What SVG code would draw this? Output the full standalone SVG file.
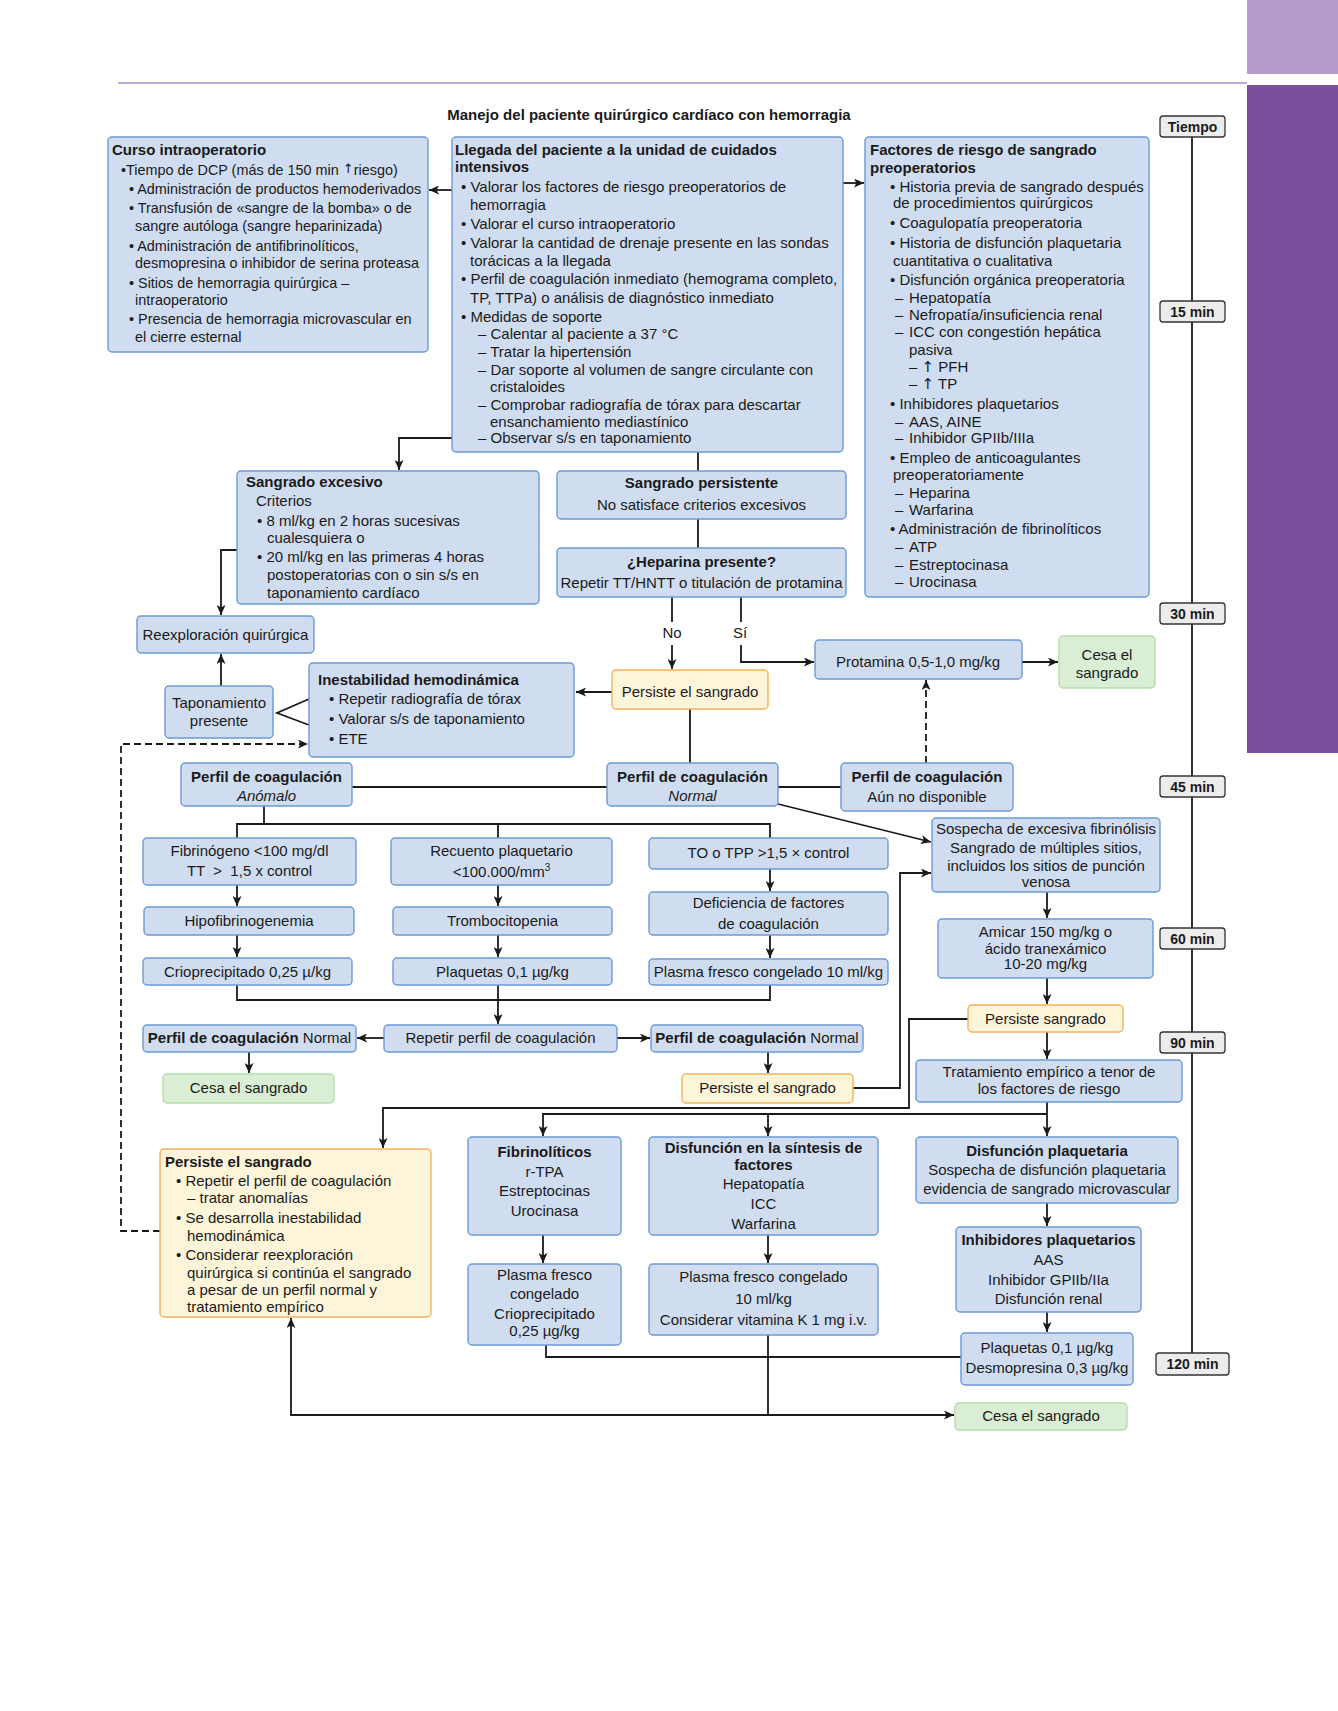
<svg xmlns="http://www.w3.org/2000/svg" width="1338" height="1711" viewBox="0 0 1338 1711">
<defs>
<style>
text{font-family:"Liberation Sans",Arial,sans-serif;font-size:15px;fill:#1a1a1a}
.bd{font-weight:bold}
.c{text-anchor:middle}
.it{font-style:italic}
.sm{font-size:14.4px}
.ar{font-family:"DejaVu Sans",sans-serif}
.b{fill:#d0ddf0;stroke:#6b9ad3;stroke-width:1.4}
.y{fill:#fdf5da;stroke:#f2b35a;stroke-width:1.4}
.g{fill:#d9eed4;stroke:#b8dcae;stroke-width:1.4}
.t{fill:#ececec;stroke:#333;stroke-width:1.3}
.tt{font-size:14px;font-weight:bold}
.ln{stroke:#1a1a1a;stroke-width:1.8;fill:none}
.ds{stroke-dasharray:7 4}
</style>
<marker id="ah" markerUnits="userSpaceOnUse" markerWidth="11" markerHeight="9" refX="10" refY="4.5" orient="auto">
<path d="M0,0 L10,4.5 L0,9 L2.5,4.5 z" fill="#1a1a1a"/>
</marker>
</defs>
<rect width="1338" height="1711" fill="#fff"/>
<g id="page">
<rect x="1247" y="0" width="91" height="74" fill="#b49ccd"/>
<line x1="118" y1="83" x2="1247" y2="83" stroke="#a58bc6" stroke-width="1.5"/>
<rect x="1247" y="85" width="91" height="668" fill="#7a4f9c"/>
<text x="649" y="120" class="bd c">Manejo del paciente quirúrgico cardíaco con hemorragia</text>
</g>
<g id="timeline">
<line x1="1192" y1="137" x2="1192" y2="1353" class="ln"/>
<rect x="1160" y="116" width="65" height="21" rx="3" class="t"/><text x="1192.5" y="131.5" class="tt c">Tiempo</text>
<rect x="1160" y="301" width="65" height="21" rx="3" class="t"/><text x="1192.5" y="316.5" class="tt c">15 min</text>
<rect x="1160" y="603" width="65" height="21" rx="3" class="t"/><text x="1192.5" y="618.5" class="tt c">30 min</text>
<rect x="1160" y="776" width="65" height="21" rx="3" class="t"/><text x="1192.5" y="791.5" class="tt c">45 min</text>
<rect x="1160" y="928" width="65" height="21" rx="3" class="t"/><text x="1192.5" y="943.5" class="tt c">60 min</text>
<rect x="1160" y="1032" width="65" height="21" rx="3" class="t"/><text x="1192.5" y="1047.5" class="tt c">90 min</text>
<rect x="1156" y="1353" width="73" height="22" rx="3" class="t"/><text x="1192.5" y="1369" class="tt c">120 min</text>
</g>
<g id="connectors">
<path class="ln" marker-end="url(#ah)" d="M452,190 H429"/>
<path class="ln" marker-end="url(#ah)" d="M843,183 H864"/>
<path class="ln" marker-end="url(#ah)" d="M452,438 H399 V470"/>
<path class="ln" d="M698,452 V471"/>
<path class="ln" d="M698,519 V548"/>
<path class="ln" d="M672,597 V622"/>
<path class="ln" marker-end="url(#ah)" d="M672,645 V669"/>
<path class="ln" d="M741,597 V622"/>
<path class="ln" marker-end="url(#ah)" d="M741,645 V662 H814"/>
<path class="ln" marker-end="url(#ah)" d="M612,692 H576"/>
<path class="ln" d="M690,709 V763"/>
<path class="ln" d="M352,787 H607 M778,787 H841"/>
<path class="ln ds" marker-end="url(#ah)" d="M926,763 V680"/>
<path class="ln" marker-end="url(#ah)" d="M1022,662 H1058"/>
<path class="ln" marker-end="url(#ah)" d="M237,550 H221 V615"/>
<path class="ln" marker-end="url(#ah)" d="M221,686 V654"/>
<path class="ln" d="M309,699 L277,713 L309,725"/>
<path class="ln ds" marker-end="url(#ah)" d="M160,1231 H121 V744 H308"/>
<path class="ln" d="M264,806 V824 M237,838 V824 H770 V838 M498,824 V838"/>
<path class="ln" marker-end="url(#ah)" d="M237,885 V906"/>
<path class="ln" marker-end="url(#ah)" d="M237,935 V957"/>
<path class="ln" marker-end="url(#ah)" d="M498,885 V906"/>
<path class="ln" marker-end="url(#ah)" d="M498,935 V957"/>
<path class="ln" marker-end="url(#ah)" d="M770,869 V891"/>
<path class="ln" marker-end="url(#ah)" d="M770,935 V958"/>
<path class="ln" d="M237,985 V1000 H770 V985"/>
<path class="ln" marker-end="url(#ah)" d="M498,985 V1024"/>
<path class="ln" marker-end="url(#ah)" d="M384,1038 H357"/>
<path class="ln" marker-end="url(#ah)" d="M617,1038 H650"/>
<path class="ln" marker-end="url(#ah)" d="M249,1052 V1073"/>
<path class="ln" marker-end="url(#ah)" d="M768,1052 V1073"/>
<path class="ln" marker-end="url(#ah)" d="M853,1088 H900 V873 H931"/>
<path class="ln" marker-end="url(#ah)" d="M778,804 L931,842"/>
<path class="ln" marker-end="url(#ah)" d="M1047,892 V918"/>
<path class="ln" marker-end="url(#ah)" d="M1047,978 V1004"/>
<path class="ln" marker-end="url(#ah)" d="M1047,1032 V1059"/>
<path class="ln" marker-end="url(#ah)" d="M968,1019 H909 V1108 H383 V1148"/>
<path class="ln" marker-end="url(#ah)" d="M1047,1102 V1136"/>
<path class="ln" marker-end="url(#ah)" d="M1047,1114 H543 V1136"/>
<path class="ln" marker-end="url(#ah)" d="M768,1114 V1136"/>
<path class="ln" marker-end="url(#ah)" d="M543,1235 V1263"/>
<path class="ln" marker-end="url(#ah)" d="M768,1235 V1263"/>
<path class="ln" marker-end="url(#ah)" d="M1047,1203 V1226"/>
<path class="ln" marker-end="url(#ah)" d="M1047,1312 V1332"/>
<path class="ln" d="M546,1345 V1357 H961"/>
<path class="ln" d="M768,1335 V1415"/>
<path class="ln" marker-end="url(#ah)" d="M768,1415 H954"/>
<path class="ln" marker-end="url(#ah)" d="M768,1415 H291 V1318"/>
<text x="672" y="638" class="c">No</text>
<text x="740" y="638" class="c">Sí</text>
</g>
<g id="curso">
<rect x="108" y="137" width="320" height="215" rx="4" class="b"/>
<text x="112" y="155" class="bd">Curso intraoperatorio</text>
<text x="121" y="175" class="sm">•Tiempo de DCP (más de 150 min <tspan class="ar" font-size="13" dy="-2">↑</tspan><tspan dy="2">riesgo)</tspan></text>
<text x="129" y="194" class="sm">• Administración de productos hemoderivados</text>
<text x="129" y="213" class="sm">• Transfusión de «sangre de la bomba» o de</text>
<text x="135" y="231" class="sm">sangre autóloga (sangre heparinizada)</text>
<text x="129" y="251" class="sm">• Administración de antifibrinolíticos,</text>
<text x="135" y="268" class="sm">desmopresina o inhibidor de serina proteasa</text>
<text x="129" y="288" class="sm">• Sitios de hemorragia quirúrgica –</text>
<text x="135" y="305" class="sm">intraoperatorio</text>
<text x="129" y="324" class="sm">• Presencia de hemorragia microvascular en</text>
<text x="135" y="342" class="sm">el cierre esternal</text>
</g>
<g id="llegada">
<rect x="452" y="137" width="391" height="315" rx="4" class="b"/>
<text x="455" y="155" class="bd">Llegada del paciente a la unidad de cuidados</text>
<text x="455" y="172" class="bd">intensivos</text>
<text x="461" y="192">• Valorar los factores de riesgo preoperatorios de</text>
<text x="470" y="210">hemorragia</text>
<text x="461" y="229">• Valorar el curso intraoperatorio</text>
<text x="461" y="248">• Valorar la cantidad de drenaje presente en las sondas</text>
<text x="470" y="266">torácicas a la llegada</text>
<text x="461" y="284">• Perfil de coagulación inmediato (hemograma completo,</text>
<text x="470" y="303">TP, TTPa) o análisis de diagnóstico inmediato</text>
<text x="461" y="322">• Medidas de soporte</text>
<text x="478" y="339">– Calentar al paciente a 37 °C</text>
<text x="478" y="357">– Tratar la hipertensión</text>
<text x="478" y="375">– Dar soporte al volumen de sangre circulante con</text>
<text x="490" y="392">cristaloides</text>
<text x="478" y="410">– Comprobar radiografía de tórax para descartar</text>
<text x="490" y="427">ensanchamiento mediastínico</text>
<text x="478" y="443">– Observar s/s en taponamiento</text>
</g>
<g id="factores">
<rect x="865" y="137" width="284" height="460" rx="4" class="b"/>
<text x="870" y="155" class="bd">Factores de riesgo de sangrado</text>
<text x="870" y="173" class="bd">preoperatorios</text>
<text x="890" y="192">• Historia previa de sangrado después</text>
<text x="893" y="208">de procedimientos quirúrgicos</text>
<text x="890" y="228">• Coagulopatía preoperatoria</text>
<text x="890" y="248">• Historia de disfunción plaquetaria</text>
<text x="893" y="266">cuantitativa o cualitativa</text>
<text x="890" y="285">• Disfunción orgánica preoperatoria</text>
<text><tspan x="895" y="303">–</tspan><tspan x="909" y="303">Hepatopatía</tspan></text>
<text><tspan x="895" y="320">–</tspan><tspan x="909" y="320">Nefropatía/insuficiencia renal</tspan></text>
<text><tspan x="895" y="337">–</tspan><tspan x="909" y="337">ICC con congestión hepática</tspan></text>
<text x="909" y="355">pasiva</text>
<text x="909" y="372">– <tspan class="ar">↑</tspan> PFH</text>
<text x="909" y="389">– <tspan class="ar">↑</tspan> TP</text>
<text x="890" y="409">• Inhibidores plaquetarios</text>
<text><tspan x="895" y="427">–</tspan><tspan x="909" y="427">AAS, AINE</tspan></text>
<text><tspan x="895" y="443">–</tspan><tspan x="909" y="443">Inhibidor GPIIb/IIIa</tspan></text>
<text x="890" y="463">• Empleo de anticoagulantes</text>
<text x="893" y="480">preoperatoriamente</text>
<text><tspan x="895" y="498">–</tspan><tspan x="909" y="498">Heparina</tspan></text>
<text><tspan x="895" y="515">–</tspan><tspan x="909" y="515">Warfarina</tspan></text>
<text x="890" y="534">• Administración de fibrinolíticos</text>
<text><tspan x="895" y="552">–</tspan><tspan x="909" y="552">ATP</tspan></text>
<text><tspan x="895" y="570">–</tspan><tspan x="909" y="570">Estreptocinasa</tspan></text>
<text><tspan x="895" y="587">–</tspan><tspan x="909" y="587">Urocinasa</tspan></text>
</g>
<g id="sangrado-excesivo">
<rect x="237" y="471" width="302" height="133" rx="4" class="b"/>
<text x="246" y="487" class="bd">Sangrado excesivo</text>
<text x="256" y="506">Criterios</text>
<text x="257" y="526">• 8 ml/kg en 2 horas sucesivas</text>
<text x="267" y="543">cualesquiera o</text>
<text x="257" y="562">• 20 ml/kg en las primeras 4 horas</text>
<text x="267" y="580">postoperatorias con o sin s/s en</text>
<text x="267" y="598">taponamiento cardíaco</text>
</g>
<g id="sangrado-persistente">
<rect x="557" y="471" width="289" height="48" rx="4" class="b"/>
<text x="701.5" y="488" class="bd c">Sangrado persistente</text>
<text x="701.5" y="510" class="c">No satisface criterios excesivos</text>
</g>
<g id="heparina">
<rect x="557" y="548" width="289" height="49" rx="4" class="b"/>
<text x="701.5" y="567" class="bd c">¿Heparina presente?</text>
<text x="701.5" y="588" class="c">Repetir TT/HNTT o titulación de protamina</text>
</g>
<g id="persiste-1">
<rect x="612" y="670" width="156" height="39" rx="4" class="y"/>
<text x="690" y="697" class="c">Persiste el sangrado</text>
</g>
<g id="protamina">
<rect x="815" y="640" width="207" height="39" rx="4" class="b"/>
<text x="918" y="667" class="c">Protamina 0,5-1,0 mg/kg</text>
</g>
<g id="cesa-1">
<rect x="1059" y="636" width="96" height="52" rx="4" class="g"/>
<text x="1107" y="660" class="c">Cesa el</text>
<text x="1107" y="678" class="c">sangrado</text>
</g>
<g id="reexploracion">
<rect x="137" y="616" width="177" height="37" rx="4" class="b"/>
<text x="225.5" y="640" class="c">Reexploración quirúrgica</text>
</g>
<g id="taponamiento">
<rect x="165" y="686" width="108" height="52" rx="4" class="b"/>
<text x="219" y="708" class="c">Taponamiento</text>
<text x="219" y="726" class="c">presente</text>
</g>
<g id="inestabilidad">
<rect x="309" y="663" width="265" height="94" rx="4" class="b"/>
<text x="318" y="685" class="bd">Inestabilidad hemodinámica</text>
<text x="329" y="704">• Repetir radiografía de tórax</text>
<text x="329" y="724">• Valorar s/s de taponamiento</text>
<text x="329" y="744">• ETE</text>
</g>
<g id="perfil-anomalo">
<rect x="181" y="763" width="171" height="43" rx="4" class="b"/>
<text x="266.5" y="782" class="bd c">Perfil de coagulación</text>
<text x="266.5" y="801" class="it c">Anómalo</text>
</g>
<g id="perfil-normal">
<rect x="607" y="763" width="171" height="43" rx="4" class="b"/>
<text x="692.5" y="782" class="bd c">Perfil de coagulación</text>
<text x="692.5" y="801" class="it c">Normal</text>
</g>
<g id="perfil-aun">
<rect x="841" y="763" width="172" height="48" rx="4" class="b"/>
<text x="927" y="782" class="bd c">Perfil de coagulación</text>
<text x="927" y="802" class="c">Aún no disponible</text>
</g>
<g id="fibrinogeno">
<rect x="143" y="838" width="213" height="47" rx="4" class="b"/>
<text x="249.5" y="856" class="c">Fibrinógeno &lt;100 mg/dl</text>
<text x="249.5" y="876" class="c" xml:space="preserve">TT  &gt;  1,5 x control</text>
</g>
<g id="hipofibrinogenemia">
<rect x="144" y="907" width="210" height="28" rx="4" class="b"/>
<text x="249" y="926" class="c">Hipofibrinogenemia</text>
</g>
<g id="crioprecipitado">
<rect x="143" y="958" width="209" height="27" rx="4" class="b"/>
<text x="247.5" y="977" class="c">Crioprecipitado 0,25 µ/kg</text>
</g>
<g id="recuento">
<rect x="391" y="838" width="221" height="47" rx="4" class="b"/>
<text x="501.5" y="856" class="c">Recuento plaquetario</text>
<text x="501.5" y="877" class="c">&lt;100.000/mm<tspan font-size="10" dy="-6">3</tspan></text>
</g>
<g id="trombocitopenia">
<rect x="393" y="907" width="219" height="28" rx="4" class="b"/>
<text x="502.5" y="926" class="c">Trombocitopenia</text>
</g>
<g id="plaquetas-1">
<rect x="393" y="958" width="219" height="27" rx="4" class="b"/>
<text x="502.5" y="977" class="c">Plaquetas 0,1 µg/kg</text>
</g>
<g id="to-tpp">
<rect x="649" y="838" width="239" height="31" rx="4" class="b"/>
<text x="768.5" y="858" class="c">TO o TPP &gt;1,5 × control</text>
</g>
<g id="deficiencia">
<rect x="649" y="892" width="239" height="43" rx="4" class="b"/>
<text x="768.5" y="908" class="c">Deficiencia de factores</text>
<text x="768.5" y="929" class="c">de coagulación</text>
</g>
<g id="plasma-1">
<rect x="649" y="959" width="239" height="26" rx="4" class="b"/>
<text x="768.5" y="977" class="c">Plasma fresco congelado 10 ml/kg</text>
</g>
<g id="repetir">
<rect x="384" y="1025" width="233" height="27" rx="4" class="b"/>
<text x="500.5" y="1043" class="c">Repetir perfil de coagulación</text>
</g>
<g id="normal-izq">
<rect x="143" y="1025" width="213" height="27" rx="4" class="b"/>
<text x="249.5" y="1043" class="c"><tspan class="bd">Perfil de coagulación</tspan> Normal</text>
</g>
<g id="cesa-2">
<rect x="163" y="1074" width="171" height="29" rx="4" class="g"/>
<text x="248.5" y="1093" class="c">Cesa el sangrado</text>
</g>
<g id="normal-der">
<rect x="651" y="1025" width="212" height="27" rx="4" class="b"/>
<text x="757" y="1043" class="c"><tspan class="bd">Perfil de coagulación</tspan> Normal</text>
</g>
<g id="persiste-2">
<rect x="682" y="1074" width="171" height="29" rx="4" class="y"/>
<text x="767.5" y="1093" class="c">Persiste el sangrado</text>
</g>
<g id="sospecha">
<rect x="932" y="818" width="228" height="74" rx="4" class="b"/>
<text x="1046" y="834" class="c">Sospecha de excesiva fibrinólisis</text>
<text x="1046" y="853" class="c">Sangrado de múltiples sitios,</text>
<text x="1046" y="871" class="c">incluidos los sitios de punción</text>
<text x="1046" y="887" class="c">venosa</text>
</g>
<g id="amicar">
<rect x="938" y="919" width="215" height="59" rx="4" class="b"/>
<text x="1045.5" y="937" class="c">Amicar 150 mg/kg o</text>
<text x="1045.5" y="954" class="c">ácido tranexámico</text>
<text x="1045.5" y="969" class="c">10-20 mg/kg</text>
</g>
<g id="persiste-3">
<rect x="968" y="1005" width="155" height="27" rx="4" class="y"/>
<text x="1045.5" y="1024" class="c">Persiste sangrado</text>
</g>
<g id="tratamiento">
<rect x="916" y="1060" width="266" height="42" rx="4" class="b"/>
<text x="1049" y="1077" class="c">Tratamiento empírico a tenor de</text>
<text x="1049" y="1094" class="c">los factores de riesgo</text>
</g>
<g id="persiste-4">
<rect x="160" y="1149" width="271" height="168" rx="4" class="y"/>
<text x="165" y="1167" class="bd">Persiste el sangrado</text>
<text x="176" y="1186">• Repetir el perfil de coagulación</text>
<text x="187" y="1203">– tratar anomalías</text>
<text x="176" y="1223">• Se desarrolla inestabilidad</text>
<text x="187" y="1241">hemodinámica</text>
<text x="176" y="1260">• Considerar reexploración</text>
<text x="187" y="1278">quirúrgica si continúa el sangrado</text>
<text x="187" y="1295">a pesar de un perfil normal y</text>
<text x="187" y="1312">tratamiento empírico</text>
</g>
<g id="fibrinoliticos">
<rect x="468" y="1137" width="153" height="98" rx="4" class="b"/>
<text x="544.5" y="1157" class="bd c">Fibrinolíticos</text>
<text x="544.5" y="1177" class="c">r-TPA</text>
<text x="544.5" y="1196" class="c">Estreptocinas</text>
<text x="544.5" y="1216" class="c">Urocinasa</text>
</g>
<g id="plasma-2">
<rect x="468" y="1264" width="153" height="81" rx="4" class="b"/>
<text x="544.5" y="1280" class="c">Plasma fresco</text>
<text x="544.5" y="1299" class="c">congelado</text>
<text x="544.5" y="1319" class="c">Crioprecipitado</text>
<text x="544.5" y="1336" class="c">0,25 µg/kg</text>
</g>
<g id="disfuncion-sintesis">
<rect x="649" y="1137" width="229" height="98" rx="4" class="b"/>
<text x="763.5" y="1153" class="bd c">Disfunción en la síntesis de</text>
<text x="763.5" y="1170" class="bd c">factores</text>
<text x="763.5" y="1189" class="c">Hepatopatía</text>
<text x="763.5" y="1209" class="c">ICC</text>
<text x="763.5" y="1229" class="c">Warfarina</text>
</g>
<g id="plasma-3">
<rect x="649" y="1264" width="229" height="71" rx="4" class="b"/>
<text x="763.5" y="1282" class="c">Plasma fresco congelado</text>
<text x="763.5" y="1304" class="c">10 ml/kg</text>
<text x="763.5" y="1325" class="c">Considerar vitamina K 1 mg i.v.</text>
</g>
<g id="disfuncion-plaquetaria">
<rect x="916" y="1137" width="262" height="66" rx="4" class="b"/>
<text x="1047" y="1156" class="bd c">Disfunción plaquetaria</text>
<text x="1047" y="1175" class="c">Sospecha de disfunción plaquetaria</text>
<text x="1047" y="1194" class="c">evidencia de sangrado microvascular</text>
</g>
<g id="inhibidores">
<rect x="956" y="1227" width="185" height="85" rx="4" class="b"/>
<text x="1048.5" y="1245" class="bd c">Inhibidores plaquetarios</text>
<text x="1048.5" y="1265" class="c">AAS</text>
<text x="1048.5" y="1285" class="c">Inhibidor GPIIb/IIa</text>
<text x="1048.5" y="1304" class="c">Disfunción renal</text>
</g>
<g id="plaquetas-2">
<rect x="961" y="1333" width="172" height="52" rx="4" class="b"/>
<text x="1047" y="1353" class="c">Plaquetas 0,1 µg/kg</text>
<text x="1047" y="1373" class="c">Desmopresina 0,3 µg/kg</text>
</g>
<g id="cesa-3">
<rect x="955" y="1403" width="172" height="27" rx="4" class="g"/>
<text x="1041" y="1421" class="c">Cesa el sangrado</text>
</g>
</svg>
